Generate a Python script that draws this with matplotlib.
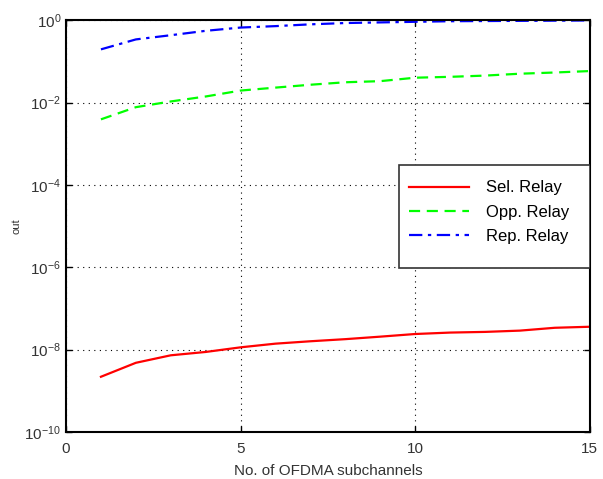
import numpy as np
import matplotlib
matplotlib.use('Agg')
import matplotlib.pyplot as plt
from matplotlib.patches import Rectangle

# values
subchannels = [1, 2, 3, 4, 5, 6, 7, 8, 9, 10, 11, 12, 13, 14, 15]
sel_relay = [2.2e-9, 4.8e-9, 7.3e-9, 8.8e-9, 1.14e-8, 1.4e-8, 1.6e-8, 1.8e-8,
             2.07e-8, 2.4e-8, 2.6e-8, 2.7e-8, 2.9e-8, 3.4e-8, 3.6e-8]
opp_relay = [3.9e-3, 7.7e-3, 1.06e-2, 1.4e-2, 1.95e-2, 2.3e-2, 2.7e-2, 3.1e-2,
             3.3e-2, 4.0e-2, 4.2e-2, 4.5e-2, 5.0e-2, 5.35e-2, 5.8e-2]
rep_relay = [0.195, 0.34, 0.43, 0.55, 0.66, 0.715, 0.79, 0.85,
             0.88, 0.91, 0.94, 0.95, 0.96, 0.97, 0.98]

labels = ['Sel. Relay', 'Opp. Relay', 'Rep. Relay']
xticks = [0, 5, 10, 15]
yticks = [1e-10, 1e-8, 1e-6, 1e-4, 1e-2, 1e0]

plt.rcParams['font.family'] = ['Liberation Sans', 'DejaVu Sans']
plt.rcParams['mathtext.fontset'] = 'custom'
plt.rcParams['mathtext.rm'] = 'Liberation Sans'

fig = plt.figure(figsize=(6.03, 4.79), dpi=100)
ax = fig.add_axes([0.1095, 0.098, 0.8685, 0.86])

ax.semilogy(subchannels, sel_relay, '-', color='#ff0000', lw=1.6, label=labels[0])
ax.semilogy(subchannels, opp_relay, '--', color='#00ff00', lw=1.6, label=labels[1],
            dashes=(5, 3))
ax.semilogy(subchannels, rep_relay, '-.', color='#0000ff', lw=1.6, label=labels[2],
            dashes=(6, 2.5, 1.5, 2.5))

ax.set_xlim(0, 15)
ax.set_ylim(1e-10, 1)
ax.set_xticks(xticks)
ax.set_yticks(yticks)
ax.minorticks_off()
ax.tick_params(direction='in', top=True, right=True, length=4, width=1,
               labelsize=11, labelcolor='#333333')
ax.tick_params(axis='x', pad=7)
ax.grid(True, which='major', linestyle=(0, (1, 4)), color='black', lw=0.8)
for sp in ax.spines.values():
    sp.set_linewidth(1.5)

ax.set_xlabel('No. of OFDMA subchannels', fontsize=11, color='#333333', labelpad=6)
ax.set_ylabel('out', fontsize=8, color='#333333', labelpad=2)

leg = ax.legend(loc='upper left', bbox_to_anchor=(0.643, 0.627), frameon=False,
                fontsize=12, handlelength=3.6, handletextpad=1.0,
                labelspacing=0.55, borderaxespad=0)
ax.add_patch(Rectangle((0.636, 0.398), 0.364, 0.25, transform=ax.transAxes,
                       facecolor='white', edgecolor='#333333', lw=1.2, zorder=4))
leg.set_zorder(5)

fig.savefig('out.png', dpi=100)
